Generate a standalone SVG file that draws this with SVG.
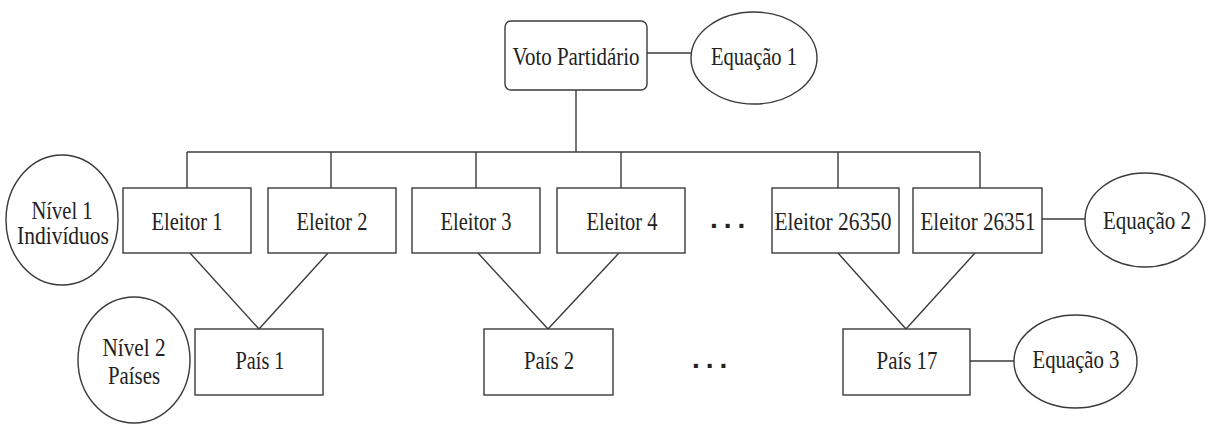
<svg xmlns="http://www.w3.org/2000/svg" width="1209" height="425" viewBox="0 0 1209 425">
<style>
.box{fill:#fff;stroke:#3a3a3a;stroke-width:1.4}
.ell{fill:#fff;stroke:#3a3a3a;stroke-width:1.4}
.con line{stroke:#3a3a3a;stroke-width:1.4;fill:none}
text{font-family:'Liberation Serif','Times New Roman',serif;font-size:26px;fill:#222;text-anchor:middle}
.dots{font-family:'Liberation Sans',Arial,sans-serif;font-weight:bold;font-size:28px;letter-spacing:6px;text-anchor:start}
</style>
<rect width="1209" height="425" fill="#fff"/>
<g id="connectors" class="con">
<line x1="647" y1="53" x2="691" y2="53"/>
<line x1="576" y1="90" x2="576" y2="152"/>
<line x1="187" y1="152" x2="980" y2="152"/>
<line x1="187" y1="152" x2="187" y2="188"/>
<line x1="331" y1="152" x2="331" y2="188"/>
<line x1="476" y1="152" x2="476" y2="188"/>
<line x1="621" y1="152" x2="621" y2="188"/>
<line x1="838" y1="152" x2="838" y2="188"/>
<line x1="980" y1="152" x2="980" y2="188"/>
<line x1="1042" y1="219" x2="1085" y2="219"/>
<line x1="190" y1="253" x2="259" y2="329"/>
<line x1="328" y1="253" x2="259" y2="329"/>
<line x1="478" y1="253" x2="548" y2="329"/>
<line x1="619" y1="253" x2="548" y2="329"/>
<line x1="838" y1="253" x2="906" y2="329"/>
<line x1="975" y1="253" x2="906" y2="329"/>
<line x1="970" y1="361" x2="1014" y2="361"/>
</g>
<g id="voto"><rect class="box" x="505" y="21" width="142" height="69" rx="6"/><text x="576" y="65" textLength="127" lengthAdjust="spacingAndGlyphs">Voto Partidário</text></g>
<g id="equacao1"><ellipse class="ell" cx="754" cy="58" rx="63" ry="46"/><text x="754" y="65" textLength="86" lengthAdjust="spacingAndGlyphs">Equação 1</text></g>
<g id="nivel1"><ellipse class="ell" cx="62" cy="220" rx="56" ry="65"/><text x="62" y="219" textLength="61" lengthAdjust="spacingAndGlyphs">Nível 1</text><text x="63" y="244" textLength="92" lengthAdjust="spacingAndGlyphs">Indivíduos</text></g>
<g id="eleitor1"><rect class="box" x="123" y="188" width="128" height="65"/><text x="187" y="230" textLength="71" lengthAdjust="spacingAndGlyphs">Eleitor 1</text></g>
<g id="eleitor2"><rect class="box" x="268" y="188" width="128" height="65"/><text x="332" y="230" textLength="71" lengthAdjust="spacingAndGlyphs">Eleitor 2</text></g>
<g id="eleitor3"><rect class="box" x="412" y="188" width="128" height="65"/><text x="476" y="230" textLength="71" lengthAdjust="spacingAndGlyphs">Eleitor 3</text></g>
<g id="eleitor4"><rect class="box" x="557" y="188" width="128" height="65"/><text x="622" y="230" textLength="71" lengthAdjust="spacingAndGlyphs">Eleitor 4</text></g>
<g id="dots1"><text class="dots" x="710" y="228">...</text></g>
<g id="eleitor26350"><rect class="box" x="772" y="188" width="127" height="65"/><text x="833" y="230" textLength="117" lengthAdjust="spacingAndGlyphs">Eleitor 26350</text></g>
<g id="eleitor26351"><rect class="box" x="913" y="188" width="129" height="65"/><text x="978" y="230" textLength="115" lengthAdjust="spacingAndGlyphs">Eleitor 26351</text></g>
<g id="equacao2"><ellipse class="ell" cx="1145" cy="220" rx="60" ry="47"/><text x="1147" y="229" textLength="88" lengthAdjust="spacingAndGlyphs">Equação 2</text></g>
<g id="nivel2"><ellipse class="ell" cx="134" cy="360" rx="56" ry="63"/><text x="134" y="356" textLength="63" lengthAdjust="spacingAndGlyphs">Nível 2</text><text x="134" y="384" textLength="52" lengthAdjust="spacingAndGlyphs">Países</text></g>
<g id="pais1"><rect class="box" x="195" y="329" width="128" height="66"/><text x="260" y="369" textLength="49" lengthAdjust="spacingAndGlyphs">País 1</text></g>
<g id="pais2"><rect class="box" x="484" y="329" width="129" height="66"/><text x="549" y="369" textLength="50" lengthAdjust="spacingAndGlyphs">País 2</text></g>
<g id="dots2"><text class="dots" x="692" y="368">...</text></g>
<g id="pais17"><rect class="box" x="843" y="329" width="127" height="66"/><text x="907" y="369" textLength="61" lengthAdjust="spacingAndGlyphs">País 17</text></g>
<g id="equacao3"><ellipse class="ell" cx="1075.5" cy="361.5" rx="61.5" ry="46.5"/><text x="1076" y="368" textLength="87" lengthAdjust="spacingAndGlyphs">Equação 3</text></g>
</svg>
